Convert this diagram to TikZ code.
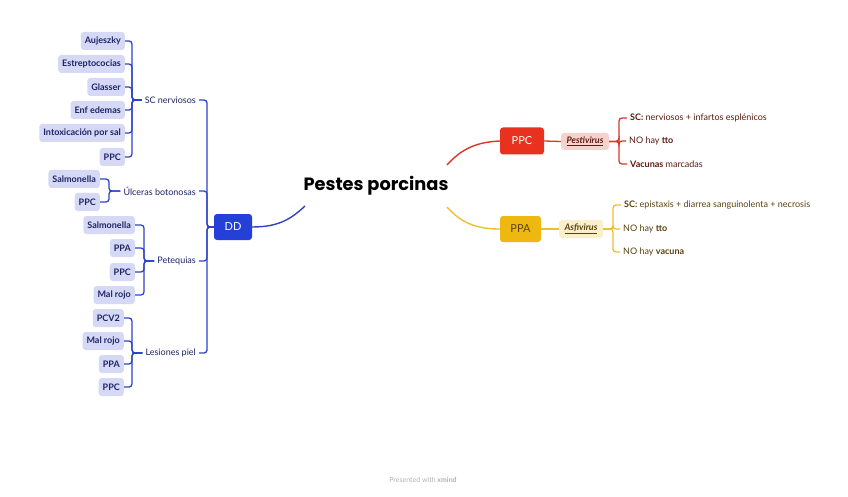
\documentclass[tikz,border=0pt]{standalone}
\usepackage{fontspec}
\setmainfont{Lato}
\newfontfamily\titlefont{Poppins}
\usetikzlibrary{calc}
\definecolor{ddblue}{HTML}{2440D8}
\definecolor{bline}{HTML}{2E44C8}
\definecolor{lav}{HTML}{D5D9F6}
\definecolor{navy}{HTML}{1E2466}
\definecolor{ppcred}{HTML}{E8321F}
\definecolor{rline}{HTML}{D6392A}
\definecolor{pink}{HTML}{F7D2CD}
\definecolor{rtext}{HTML}{5E1A12}
\definecolor{ppay}{HTML}{EEB810}
\definecolor{yline}{HTML}{F0BE2C}
\definecolor{pale}{HTML}{FAEFCB}
\definecolor{ytext}{HTML}{5A4210}
\begin{document}
\begin{tikzpicture}[x=1pt,y=-1pt,
  leaf/.style={fill=lav,rounded corners=3pt,text=navy,font=\bfseries\fontsize{9}{10}\selectfont,inner xsep=4pt,minimum height=18pt,anchor=east},
  lbl/.style={text=navy,font=\fontsize{9}{10}\selectfont,inner xsep=3pt,inner ysep=2pt},
  bl/.style={draw=bline,line width=1.3pt,rounded corners=3pt},
  rl/.style={draw=rline,line width=1.3pt,rounded corners=3pt},
  yl/.style={draw=yline,line width=1.3pt,rounded corners=3pt},
  rtxt/.style={text=rtext,font=\fontsize{9}{10}\selectfont,anchor=west,inner xsep=3pt},
  ytxt/.style={text=ytext,font=\fontsize{9}{10}\selectfont,anchor=west,inner xsep=3pt}]
\useasboundingbox[fill=white] (0,0) rectangle (848,497);

% title
\node[font=\titlefont\bfseries\fontsize{17.8}{20}\selectfont,text=black] (t) at (376,186) {Pestes porcinas};
\coordinate (tb) at (305,206);
\coordinate (tr) at (447,165);
\coordinate (ty) at (447,207);

% DD
\node[fill=ddblue,rounded corners=3pt,text=white,font=\fontsize{11}{12}\selectfont,minimum width=38pt,minimum height=26pt,inner sep=0pt] (dd) at (233,227) {DD};
\draw[draw=bline,line width=1.4pt] (dd.east) .. controls (280,227) and (292,218) .. (tb);

% spines
\coordinate (sdd) at (207,0);
\coordinate (s1) at (132,0);
\coordinate (s2) at (109,0);
\coordinate (s3) at (144,0);
\coordinate (s4) at (132,0);

% labels
\node[lbl,anchor=east] (scn) at (199,100) {SC nerviosos};
\node[lbl,anchor=east] (ulc) at (199,191) {Úlceras botonosas};
\node[lbl,anchor=east] (pet) at (199,261) {Petequias};
\node[lbl,anchor=east] (les) at (199,353) {Lesiones piel};
\foreach \n in {scn,ulc,pet,les} \draw[bl] (dd.west) -- (dd.west -| sdd) |- (\n.east);

% SC nerviosos
\node[leaf] (a1) at (125,41) {Aujeszky};
\node[leaf] (a2) at (125,64) {Estreptococias};
\node[leaf] (a3) at (125,87) {Glasser};
\node[leaf] (a4) at (125,110) {Enf edemas};
\node[leaf] (a5) at (125,133) {Intoxicación por sal};
\node[leaf] (a6) at (125,157) {PPC};
\foreach \n in {a1,a2,a3,a4,a5,a6} \draw[bl] (scn.west) -- (scn.west -| s1) |- (\n.east);

% Ulceras
\node[leaf] (b1) at (100,179) {Salmonella};
\node[leaf] (b2) at (100,202) {PPC};
\foreach \n in {b1,b2} \draw[bl] (ulc.west) -- (ulc.west -| s2) |- (\n.east);

% Petequias
\node[leaf] (c1) at (135,225) {Salmonella};
\node[leaf] (c2) at (135,248) {PPA};
\node[leaf] (c3) at (135,272) {PPC};
\node[leaf] (c4) at (135,295) {Mal rojo};
\foreach \n in {c1,c2,c3,c4} \draw[bl] (pet.west) -- (pet.west -| s3) |- (\n.east);

% Lesiones piel
\node[leaf] (d1) at (124,318) {PCV2};
\node[leaf] (d2) at (124,341) {Mal rojo};
\node[leaf] (d3) at (124,364) {PPA};
\node[leaf] (d4) at (124,387) {PPC};
\foreach \n in {d1,d2,d3,d4} \draw[bl] (les.west) -- (les.west -| s4) |- (\n.east);

% PPC branch
\node[fill=ppcred,rounded corners=3pt,text=white,font=\fontsize{11}{12}\selectfont,minimum width=44pt,minimum height=27pt,inner sep=0pt] (ppc) at (522,141) {PPC};
\draw[draw=rline,line width=1.4pt] (tr) .. controls (462,148) and (478,142) .. (ppc.west);
\node[fill=pink,rounded corners=3pt,text=rtext,font=\bfseries\itshape\fontsize{9}{10}\selectfont,minimum width=48pt,minimum height=17pt,inner sep=0pt] (pest) at (585,141.5) {\underline{Pestivirus}};
\draw[rl] (ppc.east) -- (pest.west);
\coordinate (sr) at (619,0);
\node[rtxt] (r1) at (627,118) {\textbf{SC:} nerviosos + infartos esplénicos};
\node[rtxt] (r2) at (626,141) {NO hay \textbf{tto}};
\node[rtxt] (r3) at (627,164) {\textbf{Vacunas} marcadas};
\foreach \n in {r1,r2,r3} \draw[rl] (pest.east) -- (pest.east -| sr) |- (\n.west);

% PPA branch
\node[fill=ppay,rounded corners=3pt,text=ytext,font=\fontsize{11}{12}\selectfont,minimum width=41pt,minimum height=26pt,inner sep=0pt] (ppa) at (520.5,229) {PPA};
\draw[draw=yline,line width=1.4pt] (ty) .. controls (462,224) and (478,229) .. (ppa.west);
\node[fill=pale,rounded corners=3pt,text=ytext,font=\bfseries\itshape\fontsize{9}{10}\selectfont,minimum width=44pt,minimum height=18pt,inner sep=0pt] (asf) at (581,229) {\underline{Asfivirus}};
\draw[yl] (ppa.east) -- (asf.west);
\coordinate (sy) at (613,0);
\node[ytxt] (y1) at (621,205) {\textbf{SC:} epistaxis + diarrea sanguinolenta + necrosis};
\node[ytxt] (y2) at (620,229) {NO hay \textbf{tto}};
\node[ytxt] (y3) at (620,252) {NO hay \textbf{vacuna}};
\foreach \n in {y1,y2,y3} \draw[yl] (asf.east) -- (asf.east -| sy) |- (\n.west);

% footer
\node[text=black!30,font=\fontsize{7}{8}\selectfont] (ft) at (423,480) {Presented with \textbf{xmind}};
\end{tikzpicture}
\end{document}
